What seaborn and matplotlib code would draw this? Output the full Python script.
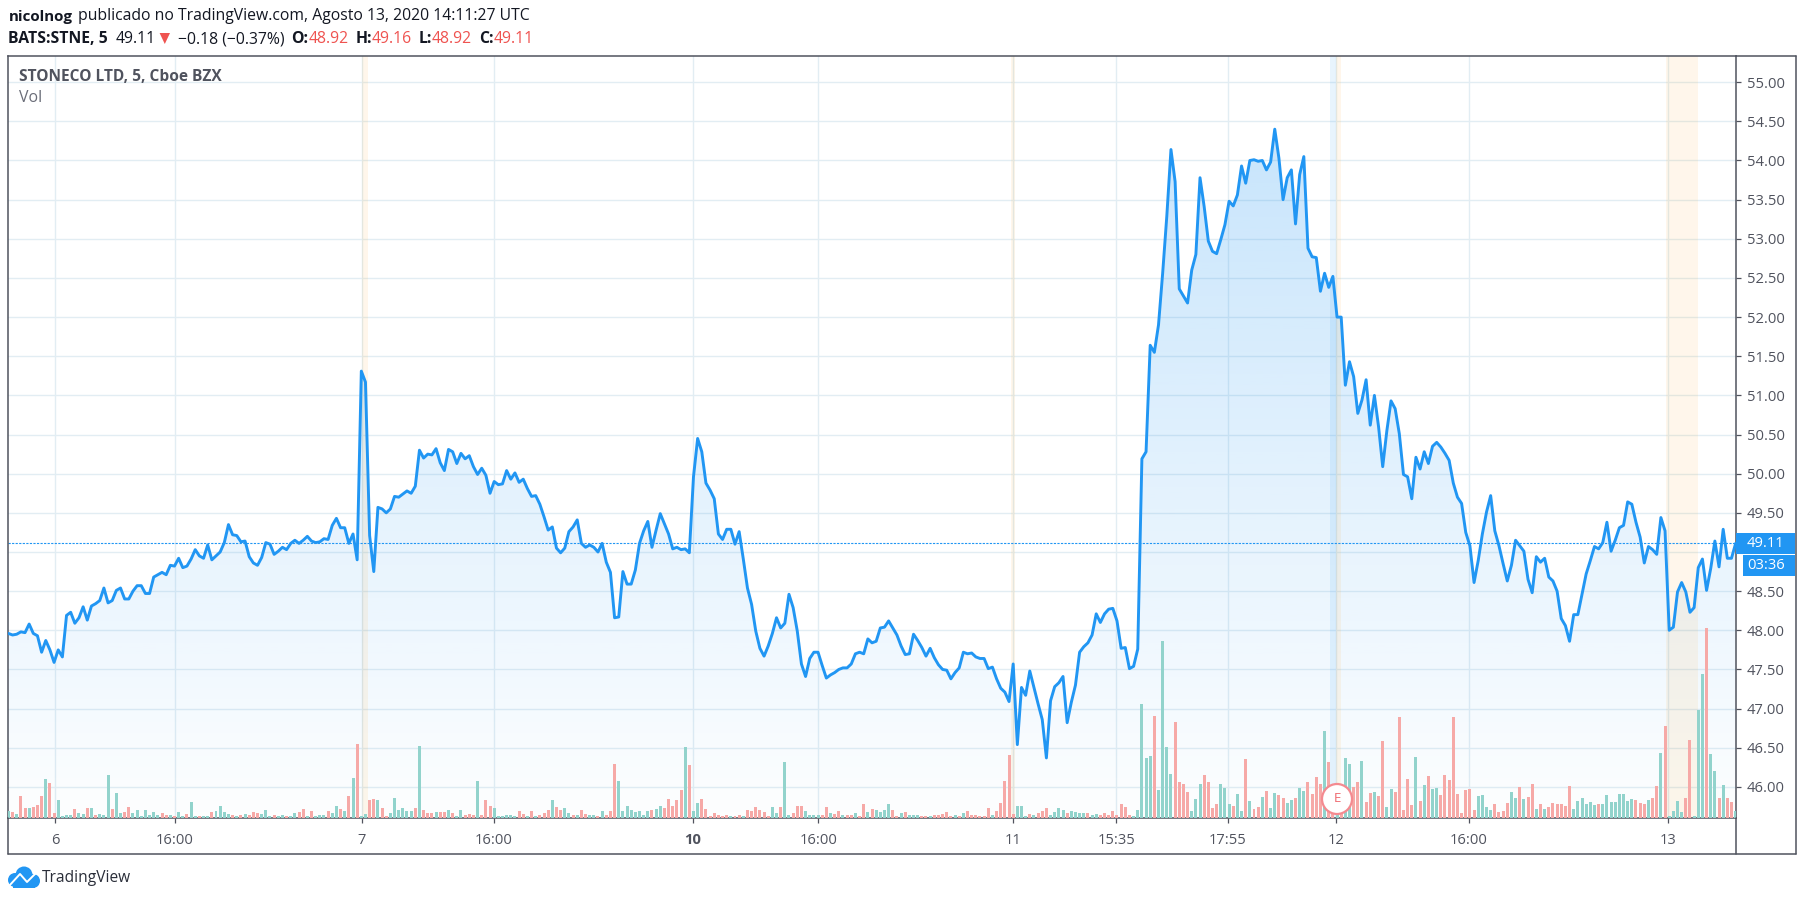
import numpy as np
import pandas as pd
import matplotlib
matplotlib.use("Agg")
import matplotlib.pyplot as plt
from matplotlib.lines import Line2D
from matplotlib.patches import Rectangle, Ellipse, Polygon
import seaborn as sns

# ---------- data ----------
price_aug06 = [47.96,47.94,47.95,47.98,47.97,48.08,47.96,47.93,47.72,47.87,47.75,47.59,47.75,47.66,48.19,48.23,48.09,48.16,48.30,48.13,
 48.31,48.34,48.38,48.54,48.35,48.38,48.51,48.54,48.40,48.40,48.50,48.57,48.57,48.47,48.47,48.68,48.71,48.74,48.71,48.83,
 48.82,48.92,48.80,48.82,48.91,49.03,48.95,48.92,49.09,48.90,48.95,49.00,49.12,49.35,49.22,49.21,49.13,49.14,48.94,48.86,
 48.83,48.93,49.12,49.10,48.97,49.01,49.06,49.03,49.11,49.15,49.11,49.15,49.20,49.14,49.12,49.13,49.17,49.16,49.34,49.43,
 49.31,49.31,49.11,49.23,48.90]
price_aug07 = [51.31,51.17,49.21,48.75,49.57,49.55,49.50,49.55,49.71,49.70,49.74,49.78,49.75,49.84,50.30,50.20,50.25,50.24,50.32,50.14,
 50.04,50.31,50.28,50.13,50.26,50.19,50.23,50.09,49.99,50.07,49.98,49.75,49.90,49.86,49.87,50.04,49.93,50.01,49.89,49.93,
 49.81,49.71,49.72,49.61,49.45,49.28,49.32,49.05,48.99,49.05,49.26,49.32,49.41,49.11,49.06,49.09,49.06,49.00,49.11,48.87,
 48.74,48.16,48.17,48.75,48.59,48.59,48.77,49.11,49.27,49.39,49.06,49.28,49.49,49.36,49.23,49.04,49.06,49.03,49.04,48.99,
 49.96,50.45]
price_aug10 = [50.28,49.88,49.79,49.68,49.23,49.16,49.29,49.29,49.10,49.26,48.91,48.54,48.33,47.99,47.77,47.67,47.80,47.96,48.16,48.03,
 48.09,48.46,48.29,47.99,47.57,47.41,47.64,47.72,47.72,47.55,47.39,47.43,47.46,47.50,47.52,47.52,47.57,47.70,47.72,47.70,
 47.89,47.84,47.86,48.03,48.04,48.12,48.03,47.94,47.80,47.69,47.70,47.95,47.87,47.78,47.67,47.77,47.65,47.56,47.50,47.49,
 47.38,47.46,47.52,47.72,47.70,47.71,47.66,47.64,47.64,47.51,47.53,47.38,47.26,47.21,47.09,47.57,46.54,47.27,47.17,47.48,
 47.27,47.06,46.86,46.37,47.10,47.28,47.33,47.41,46.82,47.08,47.30,47.72,47.79,47.84,47.94,48.21,48.10,48.21,48.27,48.28,
 48.12,47.77,47.78,47.51,47.54,47.76]
price_aug11 = [50.19,50.28,51.64,51.55,51.90,52.56,53.29,54.14,53.73,52.36,52.27,52.18,52.60,52.80,53.78,53.41,52.97,52.84,52.81,52.99,
 53.18,53.48,53.42,53.56,53.93,53.71,54.00,54.01,53.99,54.00,53.88,53.98,54.40,54.03,53.50,53.78,53.88,53.19,53.82,54.05,
 52.88,52.77,52.76,52.33,52.56,52.38,52.52,52.00,52.00,51.13,51.43,51.24,50.77,50.94,51.20,50.62,51.00,50.60,50.09,50.55,
 50.93,50.83,50.51,49.99,49.96,49.68,50.21,50.06,50.28,50.13,50.35,50.40,50.34,50.26,50.17,49.88,49.70]
price_aug12 = [49.62,49.25,49.08,48.61,48.89,49.23,49.51,49.72,49.27,49.08,48.85,48.63,48.83,49.15,49.08,49.01,48.65,48.48,48.94,48.87,
 48.92,48.68,48.63,48.50,48.15,48.06,47.86,48.20,48.20,48.46,48.72,48.89,49.07,49.04]
price_aug13 = [49.12,49.38,49.01,49.15,49.31,49.34,49.64,49.61,49.38,49.19,48.86,49.07,49.03,48.97,49.44,49.27,48.00,48.04,48.49,48.61,
 48.49,48.23,48.29,48.80,48.91,48.51,48.79,49.14,48.81,49.29,48.92,48.92,49.11]

# signed volume: positive = up bar, negative = down bar
vol_a = [20,-18,12,-66,-30,30,-33,-38,-66,117,-105,-15,54,6,9,9,-27,15,12,-30,30,-9,12,9,129,-27,75,15,-18,-33,15,24,6,24,9,18,9,-15,-9,9,
 -6,18,6,-12,48,6,-6,6,6,-18,21,36,18,12,-9,6,-9,12,-9,-18,-15,12,24,6,-9,6,9,-6,6,15,-18,-27,6,-21,6,9,9,-21,15,36,-27,21,-66,120,-222,
 6,12,-54,-57,54,-30,-6,15,60,24,30,21,21,-30,216,-24,-15,-15,18,-18,-18,24,-15,6,24,-9,-12,-9,111,-9,-54,-36,30,6,6,9,9,6,-21,-12,6,-21,6,
 -9,-15,-24,54,-33,-24,30,15,-9,9,-24,-12,9,9,-6]
vol_b = [21,-9,-21,-162,111,21,36,24,18,21,9,21,-24,27,36,-30,-57,-36,-54,-84,213,-159,21,45,-57,-27,-6,-15,-9,-6,-9,6,-6,-9,6,-24,-21,-33,-24,-18,
 -6,33,15,-33,168,9,-15,-36,-36,21,9,9,9,-9,-33,15,-12,-21,9,-9,-9,15,-6,-42,18,-27,24,18,24,42,-24,-6,15,-18,9,9,9,-6,-6,6,-9,-9,-12,-18,-6,9,
 -6,15,-21,-9,-9,-6,-6,-30,9,-21,-45,-111,-189,-12,36,36,6,-12,9,-15,-21,-30,9,18,30,24,-15,21,18,15,15,-15,9,12,-9,-15,-9,-21,-9]
vol_c = [-42,-33,-9,6,24,342,180,186,-306,84,531,213,132,-288,-108,-102,-78,21,57,102,-129,-108,-30,-42,102,90,42,-36,72,21,-177,51,-27,-33,63,-81,30,75,-69,-60,
 45,54,-60,90,81,-108,-72,-123,-102,261,-168,-45,30,-50,180,162,-93,-108,171,-48,-75,78,-66,-231,33,87,-78,-303,-24,-117,-39,183,-51,99,-126,87,90,-69,-129,-114,-303,-72,-15,-84,-87,
 -24,66,69,33,24,-42,-18,-21,-45,78,60,-93,57,-63,-102,27,-42,27,-33,-45,-42,-42,-36,-96,27,51,60,42,48,39,-42]
vol_d = [42,69,48,48,72,72,51,57,-54,-45,-42,54,-60,-96,195,-276,6,21,51,18,-60,-234,6,324,432,-570,192,141,-60,99,-60,-48,21]

y_ticks = [46.0,46.5,47.0,47.5,48.0,48.5,49.0,49.5,50.0,50.5,51.0,51.5,52.0,52.5,53.0,53.5,54.0,54.5,55.0]
x_tick_pos = [11.34,40.1,85.1,116.9,164.9,195.1,242.0,266.8,293.7,319.7,351.8,399.7]
x_tick_labels = ["6","16:00","7","16:00","10","16:00","11","15:35","17:55","12","16:00","13"]
last_price = 49.11

# ---------- layout ----------
W, H = 1805, 901
LEFT, RIGHT, TOP, BOTTOM = 8.4, 1736.0, 55.7, 818.0
OUT_R, OUT_B = 1796.0, 854.0
STEP = 4.152
BLUE = "#2196F3"; AX = "#50535e"; GRID = "#e2edf3"; RED = "#ef5350"; DARK = "#131722"
FONT = "Open Sans"

sns.set_theme(style="white")
plt.rcParams["font.family"] = [FONT, "DejaVu Sans"]

price = np.array(price_aug06 + price_aug07 + price_aug10 + price_aug11 + price_aug12 + price_aug13)
signed = np.array(vol_a + vol_b + vol_c + vol_d)
df_p = pd.DataFrame({"bar": np.arange(len(price)), "price": price})
df_v = pd.DataFrame({"bar": np.arange(len(signed)), "vol": np.abs(signed),
                     "dir": np.where(signed > 0, "up", "down")})

fig = plt.figure(figsize=(W/100, H/100), dpi=100, facecolor="white")
ax = fig.add_axes([LEFT/W, 1-BOTTOM/H, (RIGHT-LEFT)/W, (BOTTOM-TOP)/H])
xmax = (RIGHT-LEFT)/STEP
ymax = 48+(630.3-TOP)/78.3
ymin = 48-(BOTTOM-630.3)/78.3

ax.set_axisbelow(True)
ax.grid(True, color=GRID, lw=1.0)

# gradient area under the line
poly = ax.fill_between(df_p["bar"], df_p["price"], ymin, facecolor="none", edgecolor="none")
n = 256
grad = np.zeros((n, 1, 4))
grad[..., 0], grad[..., 1], grad[..., 2] = 0x21/255, 0x96/255, 0xF3/255
grad[:, 0, 3] = np.linspace(0.25, 0.01, n)
im = ax.imshow(grad, extent=(0, xmax, ymin, 54.4), origin="upper", aspect="auto", zorder=1.2)
im.set_clip_path(poly.get_paths()[0], transform=ax.transData)

# session / event bands
def px2x(p):
    return (p-LEFT)/STEP
for a, b, c, al in [(361.6, 368, "#FF9800", .08), (1011.4, 1014.5, "#FF9800", .08),
                    (1330, 1336, BLUE, .10), (1336, 1341, "#FF9800", .08),
                    (1665.7, 1698.3, "#FF9800", .08)]:
    ax.axvspan(px2x(a), px2x(b), color=c, alpha=al, lw=0, zorder=1.5)

sns.lineplot(data=df_p, x="bar", y="price", color=BLUE, lw=2.1, ax=ax, zorder=3, errorbar=None)
ax.axhline(last_price, color=BLUE, lw=0.8, dashes=(2, 1.2), zorder=2.5)

ax.set_xlim(0, xmax); ax.set_ylim(ymin, ymax)
ax.set_xlabel(""); ax.set_ylabel("")

# volume on a hidden twin axis
ax2 = ax.twinx()
sns.barplot(data=df_v, x="bar", y="vol", hue="dir", palette={"up": "#92d3cc", "down": "#f6a9a7"},
            native_scale=True, dodge=False, saturation=1, legend=False, linewidth=0, ax=ax2, zorder=2)
for p in ax2.patches:
    c = p.get_x() + p.get_width()/2
    p.set_width(0.72); p.set_x(c-0.36)
ax2.set_xlim(0, xmax)
ax2.set_ylim(0, (BOTTOM-TOP)*3)
ax2.axis("off")
ax.set_zorder(2); ax2.set_zorder(3); ax2.patch.set_visible(False)

ax.yaxis.tick_right()
# the 49.00 label sits fully under the last-price tag in the reference
ax.set_yticks(y_ticks, ["" if v == 49.0 else f"{v:.2f}" for v in y_ticks])
ax.set_xticks(x_tick_pos, x_tick_labels)
ax.tick_params(axis="y", left=False, right=True, labelleft=False, labelright=True, length=3.6, width=0.9, color=AX, labelcolor=AX, labelsize=10.6, pad=4.4)
ax.tick_params(axis="x", bottom=True, length=3.6, width=0.9, color=AX, labelcolor=AX, labelsize=10.6, pad=7)
for lab in ax.get_xticklabels():
    if lab.get_text() == "10":
        lab.set_fontweight("bold")
for s in ax.spines.values():
    s.set_color(AX); s.set_linewidth(1.1)

# outer frame
def seg(x0, y0, x1, y1, **kw):
    fig.add_artist(Line2D([x0/W, x1/W], [1-y0/H, 1-y1/H], transform=fig.transFigure, zorder=10, **kw))
for c in [(RIGHT, TOP, OUT_R, TOP), (OUT_R, TOP, OUT_R, OUT_B), (LEFT, OUT_B, OUT_R, OUT_B),
          (LEFT, BOTTOM, LEFT, OUT_B), (RIGHT, BOTTOM, RIGHT, OUT_B)]:
    seg(*c, color=AX, lw=1.1)

def T(px, py, s, **kw):
    kw.setdefault("va", "center"); kw.setdefault("ha", "left")
    kw.setdefault("fontsize", 11.3); kw.setdefault("color", DARK)
    return fig.text(px/W, 1-py/H, s, zorder=20, **kw)

def box(x0, y0, x1, y1, c):
    fig.add_artist(Rectangle((x0/W, 1-y1/H), (x1-x0)/W, (y1-y0)/H, transform=fig.transFigure,
                             facecolor=c, edgecolor="none", zorder=11))

# header
T(8.4, 16.5, "nicolnog", fontweight="bold", fontsize=10.9)
T(77.7, 16.5, "publicado no TradingView.com, Agosto 13, 2020 14:11:27 UTC")
T(8.4, 39, "BATS:STNE, 5", fontweight="bold")
T(115.6, 39, "49.11")
fig.add_artist(Polygon([(159.6/W, 1-33/H), (170/W, 1-33/H), (164.8/W, 1-44/H)], closed=True,
                       transform=fig.transFigure, facecolor=RED, edgecolor="none", zorder=11))
T(178, 39, "\u22120.18 (\u22120.37%)")
for xl, lab, xv, val in [(291.6, "O:", 309, "48.92"), (355.5, "H:", 372, "49.16"),
                         (418.7, "L:", 431.7, "48.92"), (478.8, "C:", 494, "49.11")]:
    T(xl, 39, lab, fontweight="bold")
    T(xv, 39, val, color=RED)

# legend text inside the pane
T(19, 77, "STONECO LTD, 5, Cboe BZX", fontweight="bold", color=AX, fontsize=11.2)
T(19, 98, "Vol", color="#6a6d78", fontsize=11.4)

# price labels
box(1736, 533, 1795, 553.7, BLUE)
T(1765, 543.5, "49.11", color="white", ha="center", fontsize=10.6)
box(1743, 555, 1795, 576, BLUE)
T(1766.5, 565.5, "03:36", color="white", ha="center", fontsize=10.6)

# earnings marker
fig.add_artist(Ellipse((1337/W, 1-799/H), 30/W, 30/H, transform=fig.transFigure,
                       facecolor="white", edgecolor="#f48a90", lw=1.6, zorder=11))
T(1337, 799, "E", color="#ef6a70", ha="center", fontsize=9.6)

# logo
for cx, cy, r in [(15, 880, 7), (24, 875, 8.5), (33, 881, 7)]:
    fig.add_artist(Ellipse((cx/W, 1-cy/H), 2*r/W, 2*r/H, transform=fig.transFigure, facecolor=BLUE, edgecolor="none", zorder=11))
box(13, 880, 35, 887.5, BLUE)
pts = [(9, 886), (20, 874), (27, 882), (36, 873)]
fig.add_artist(Line2D([p[0]/W for p in pts], [1-p[1]/H for p in pts], transform=fig.transFigure, color="white", lw=1.4, zorder=12))
T(42, 878, "TradingView", fontsize=11.2, color="#2a2e39")

fig.savefig("out.png", dpi=100, facecolor="white")
